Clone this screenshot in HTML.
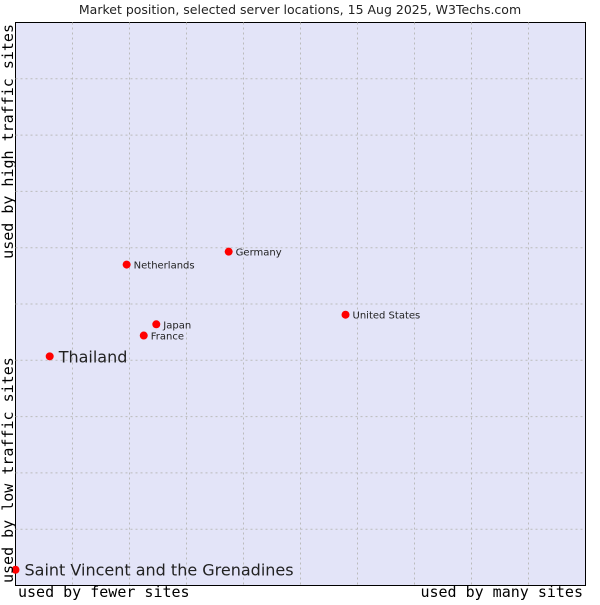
<!DOCTYPE html>
<html><head><meta charset="utf-8"><style>
body{margin:0;background:#fff;}
svg text{font-family:"DejaVu Sans","Liberation Sans",sans-serif;}
.mono{font-family:"DejaVu Sans Mono","Liberation Mono",monospace;}
</style></head><body>
<svg id="chart" width="600" height="600" xmlns="http://www.w3.org/2000/svg">
<text x="300" y="14" text-anchor="middle" font-size="12.5" fill="#222">Market position, selected server locations, 15 Aug 2025, W3Techs.com</text>
<rect x="15.5" y="22.5" width="570" height="563" fill="#e3e4f8" stroke="#000" stroke-width="1"/>
<g id="grid"></g>
<g id="points"></g>
<text class="mono" x="18" y="597" font-size="15" fill="#000">used by fewer sites</text>
<text class="mono" x="583" y="597" font-size="15" fill="#000" text-anchor="end">used by many sites</text>
<text class="mono" transform="translate(13,24) rotate(-90)" font-size="15" text-anchor="end" fill="#000">used by high traffic sites</text>
<text class="mono" transform="translate(13,583) rotate(-90)" font-size="15" fill="#000">used by low traffic sites</text>
</svg>
<script>
const names = ["Saint Vincent and the Grenadines","Thailand","Netherlands","Germany","Japan","France","United States"];
const xVals = [0.0, 0.06, 0.195, 0.374, 0.247, 0.225, 0.579];
const yVals = [0.028, 0.407, 0.570, 0.593, 0.464, 0.444, 0.481];
const bigLabel = [true, true, false, false, false, false, false];
const L=15.5,T=22.5,W=570,H=563;
const xs=v=>L+v*W, ys=v=>T+H-v*H;
const NS="http://www.w3.org/2000/svg";
const grid=document.getElementById('grid');
for(let i=1;i<10;i++){
  let l=document.createElementNS(NS,'line');
  l.setAttribute('x1',xs(i/10));l.setAttribute('x2',xs(i/10));l.setAttribute('y1',T);l.setAttribute('y2',T+H);
  l.setAttribute('stroke','#bbb');l.setAttribute('stroke-dasharray','2,3');
  
  
  grid.appendChild(l);
  let h=document.createElementNS(NS,'line');
  h.setAttribute('y1',ys(i/10));h.setAttribute('y2',ys(i/10));h.setAttribute('x1',L);h.setAttribute('x2',L+W);
  h.setAttribute('stroke','#bbb');h.setAttribute('stroke-dasharray','2,3');
  
  
  grid.appendChild(h);
}
const pts=document.getElementById('points');
names.forEach((n,i)=>{
  const cx=xs(xVals[i]), cy=ys(yVals[i]);
  const c=document.createElementNS(NS,'circle');
  c.setAttribute('cx',cx);c.setAttribute('cy',cy);c.setAttribute('r',4);c.setAttribute('fill','#f00');
  
  
  pts.appendChild(c);
  const t=document.createElementNS(NS,'text');
  t.setAttribute('x',cx+(bigLabel[i]?9:7));t.setAttribute('y',cy+(bigLabel[i]?6:4));
  t.setAttribute('font-size',bigLabel[i]?16:10);t.setAttribute('fill','#222');
  t.textContent=n;
  
  
  pts.appendChild(t);
});
</script>
</body></html>
